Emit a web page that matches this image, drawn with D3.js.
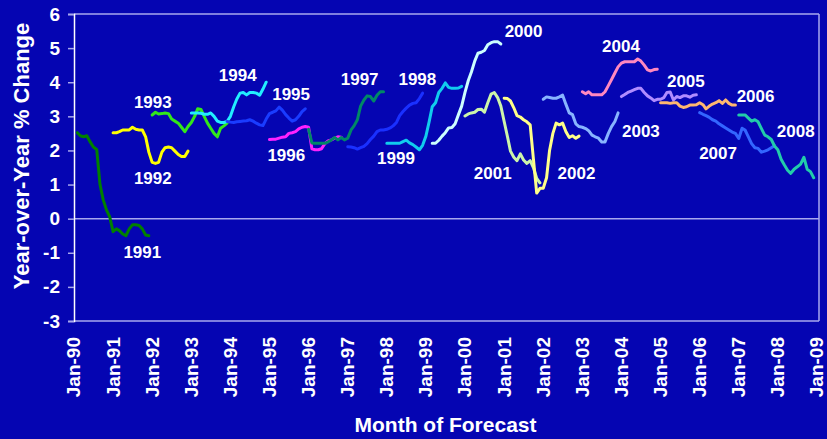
<!DOCTYPE html>
<html>
<head>
<meta charset="utf-8">
<script src="https://cdn.jsdelivr.net/npm/d3@7"></script>
<style>
  html, body { margin: 0; padding: 0; background: #0505b2; }
  svg { display: block; }
  text { font-family: Arial, "Liberation Sans", sans-serif; font-weight: bold; fill: #ffffff; }
</style>
</head>
<body>
<svg id="chart" width="827" height="439"></svg>
<script>
// ---------- DATA ----------
const years = ["1991","1992","1993","1994","1995","1996","1997","1998","1999",
               "2000","2001","2002","2003","2004","2005","2006","2007","2008"];
// first month of each forecast series (monthly values follow)
const starts = ["1990-02","1991-01","1992-01","1993-01","1993-12","1995-01","1996-01","1997-01","1998-01",
                "1999-03","2000-01","2001-01","2002-01","2003-01","2004-01","2005-01","2006-01","2007-01"];
const colors = ["#008000","#ffff00","#33e81a","#22eeff","#1a3cff","#ff22ff","#008866","#1a30ff","#11ccee",
                "#ccffff","#ccf5aa","#ffff88","#88b4ff","#ff88c0","#b08cff","#ffb870","#3366ff","#22ccaa"];

const v1991 = [2.52,2.43,2.40,2.43,2.25,2.10,2.03,1.00,0.55,0.25,0.05,-0.38,-0.30,-0.35,-0.45,-0.50,-0.30,-0.18,-0.18,-0.20,-0.30,-0.48,-0.50];
const v1992 = [2.52,2.52,2.55,2.60,2.60,2.60,2.68,2.62,2.60,2.60,2.40,1.95,1.65,1.62,1.65,1.95,2.08,2.10,2.08,1.98,1.88,1.82,1.82,1.98];
const v1993 = [3.04,3.12,3.07,3.08,3.10,3.08,2.92,2.86,2.80,2.68,2.55,2.70,2.82,3.00,3.22,3.20,3.00,2.80,2.65,2.50,2.40,2.65,2.72,2.80];
const v1994 = [3.10,3.10,3.10,3.09,3.06,3.06,3.10,3.00,2.86,2.82,2.82,2.85,3.00,3.28,3.50,3.68,3.70,3.63,3.70,3.70,3.68,3.62,3.80,4.00];
const v1995 = [2.85,2.83,2.82,2.84,2.85,2.86,2.87,2.90,2.86,2.80,2.75,2.73,2.92,3.08,3.12,3.16,3.27,3.18,3.05,2.95,2.86,2.90,3.00,3.14,3.22];
const v1996 = [2.32,2.33,2.33,2.36,2.39,2.40,2.50,2.52,2.55,2.63,2.68,2.70,2.68,2.05,2.02,2.02,2.05,2.20,2.28,2.31,2.36,2.40,2.39];
const v1997 = [2.62,2.22,2.21,2.21,2.21,2.21,2.25,2.31,2.38,2.31,2.38,2.31,2.36,2.60,2.72,2.90,3.30,3.48,3.60,3.58,3.45,3.62,3.72,3.72];
const v1998 = [2.11,2.10,2.08,2.04,2.08,2.12,2.20,2.32,2.42,2.55,2.60,2.60,2.62,2.66,2.72,2.82,3.02,3.14,3.24,3.33,3.38,3.40,3.52,3.68];
const v1999 = [2.21,2.21,2.21,2.21,2.21,2.26,2.30,2.22,2.17,2.10,2.02,2.15,2.42,2.85,3.28,3.40,3.70,3.82,3.98,3.85,3.82,3.82,3.83,3.88];
const v2000 = [2.21,2.21,2.30,2.42,2.52,2.66,2.67,2.78,3.05,3.30,3.70,4.05,4.30,4.62,4.85,4.88,4.93,5.10,5.16,5.19,5.19,5.12];
const v2001 = [3.01,3.07,3.10,3.12,3.20,3.21,3.12,3.40,3.65,3.70,3.55,3.30,2.85,2.40,1.98,1.80,1.70,1.90,1.72,1.62,1.70,1.50,1.18,1.05];
const v2002 = [3.53,3.52,3.45,3.25,3.02,2.98,2.90,2.84,2.75,1.75,0.75,0.89,0.89,1.20,2.00,2.50,2.80,2.75,2.80,2.55,2.38,2.43,2.36,2.42];
const v2003 = [3.50,3.57,3.55,3.53,3.53,3.57,3.62,3.35,3.10,3.05,2.78,2.70,2.68,2.64,2.58,2.45,2.40,2.36,2.25,2.25,2.50,2.70,2.85,3.10];
const v2004 = [3.72,3.66,3.72,3.63,3.63,3.63,3.63,3.72,3.90,4.08,4.27,4.45,4.56,4.60,4.60,4.60,4.60,4.68,4.62,4.50,4.36,4.33,4.37,4.38];
const v2005 = [3.58,3.64,3.70,3.74,3.78,3.82,3.82,3.70,3.60,3.54,3.46,3.50,3.50,3.55,3.70,3.71,3.48,3.58,3.55,3.60,3.60,3.56,3.62,3.63];
const v2006 = [3.40,3.40,3.40,3.38,3.40,3.40,3.30,3.26,3.28,3.33,3.33,3.34,3.40,3.34,3.22,3.30,3.36,3.40,3.46,3.38,3.48,3.38,3.33,3.33];
const v2007 = [3.11,3.06,3.02,2.97,2.90,2.86,2.78,2.72,2.66,2.60,2.54,2.50,2.35,2.65,2.60,2.40,2.20,2.08,2.06,1.95,1.98,2.02,2.08,2.14];
const v2008 = [3.04,3.04,3.04,2.95,2.86,2.90,2.84,2.64,2.45,2.40,2.32,2.13,2.02,1.74,1.58,1.42,1.33,1.45,1.52,1.60,1.80,1.45,1.38,1.20];
const seriesValues = [v1991,v1992,v1993,v1994,v1995,v1996,v1997,v1998,v1999,
                      v2000,v2001,v2002,v2003,v2004,v2005,v2006,v2007,v2008];

// label anchor points (date, value) for each series label
const labelDates = ["1991-10-01","1992-01-07","1992-01-07","1994-03-10","1995-07-22","1995-06-07","1997-04-22","1998-10-13","1998-03-28",
                    "2001-07-01","2000-09-16","2002-11-07","2004-07-01","2003-12-28","2005-08-25","2007-06-07","2006-06-22","2008-06-16"];
const labelValues = [-0.98,1.19,3.42,4.21,3.66,1.87,4.10,4.10,1.78,
                     5.50,1.33,1.33,2.58,5.06,4.05,3.60,1.92,2.58];

const yTicks = [-3,-2,-1,0,1,2,3,4,5,6];
const xTickYears = d3.range(1990, 2010);

// ---------- CHART ----------
(function () {
const W = 827, H = 439;
const mLeft = 74, mRight = 817, mTop = 14, mBottom = 321;
const svg = d3.select("#chart");
const bg = "#0505b2";
const frame = "#a8a8ee";

svg.append("rect").attr("width", W).attr("height", H).attr("fill", bg);

const x = d3.scaleTime().domain([new Date(1990,0,1), new Date(2009,0,1)]).range([mLeft, mRight]);
const y = d3.scaleLinear().domain([-3, 6]).range([mBottom, mTop]);

// plot frame (top, right, bottom) + zero line
const g = svg.append("g");
[6, -3, 0].forEach(v => {
  g.append("line").attr("x1", mLeft).attr("x2", mRight + 2).attr("y1", y(v)).attr("y2", y(v))
    .attr("stroke", frame).attr("stroke-width", 1.5);
});
g.append("line").attr("x1", mRight + 2).attr("x2", mRight + 2).attr("y1", y(6)).attr("y2", y(-3))
  .attr("stroke", frame).attr("stroke-width", 1.5);

// y axis
const yAxis = d3.axisLeft(y).tickValues(yTicks).tickSize(6).tickPadding(8).tickFormat(d => String(d));
const ya = svg.append("g").attr("transform", `translate(${mLeft},0)`).call(yAxis);
ya.select(".domain").attr("stroke", "#ffffff").attr("stroke-width", 1.5);
ya.selectAll(".tick line").attr("stroke", frame).attr("stroke-width", 1.5);
ya.selectAll(".tick text").attr("font-size", 19).attr("font-family", "Arial, 'Liberation Sans', sans-serif")
  .attr("font-weight", "bold").attr("fill", "#ffffff");

// x axis labels (rotated)
const fmt = d3.timeFormat("%b-%y");
svg.append("g").selectAll("text").data(xTickYears).join("text")
  .attr("transform", d => `translate(${x(new Date(d,0,1))},337) rotate(-90)`)
  .attr("text-anchor", "end").attr("dy", "0.34em").attr("font-size", 19)
  .text(d => fmt(new Date(d,0,1)));

// series lines
const parseM = d3.timeParse("%Y-%m");
const line = d3.line().x(d => x(d.date)).y(d => y(d.value));
const series = years.map((yr, i) => {
  const s = parseM(starts[i]);
  return { year: yr, color: colors[i],
           points: seriesValues[i].map((v, k) => ({ date: d3.timeMonth.offset(s, k), value: v })) };
});
svg.append("g").selectAll("path").data(series).join("path")
  .attr("d", d => line(d.points))
  .attr("fill", "none").attr("stroke", d => d.color)
  .attr("stroke-width", 3).attr("stroke-linejoin", "round").attr("stroke-linecap", "round");

// series labels
const parseD = d3.timeParse("%Y-%m-%d");
svg.append("g").selectAll("text").data(years).join("text")
  .attr("x", (d, i) => x(parseD(labelDates[i])))
  .attr("y", (d, i) => y(labelValues[i]))
  .attr("dy", "0.36em").attr("text-anchor", "middle").attr("font-size", 17)
  .text(d => d);

// axis titles
svg.append("text").attr("transform", "translate(29,156) rotate(-90)")
  .attr("text-anchor", "middle").attr("font-size", 22).text("Year-over-Year % Change");
svg.append("text").attr("x", (mLeft + mRight) / 2).attr("y", 432)
  .attr("text-anchor", "middle").attr("font-size", 21).text("Month of Forecast");
})();
</script>
</body>
</html>
